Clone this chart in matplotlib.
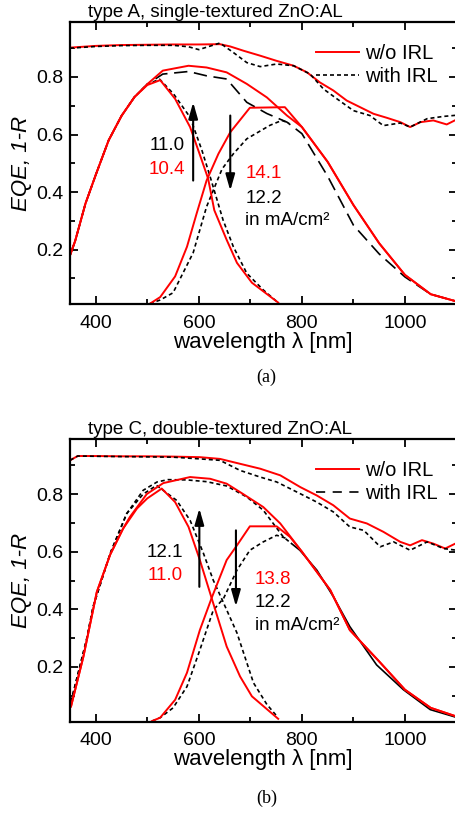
import numpy as np
import matplotlib.pyplot as plt
from matplotlib.ticker import MultipleLocator

plt.rcParams['font.family'] = ['Liberation Sans', 'DejaVu Sans']
plt.rcParams['font.size'] = 13.5

RED = '#ff0000'

# ---------------- panel (a): type A ----------------
a_title = 'type A, single-textured ZnO:AL'

# 1-R
a_r_wl    = [350, 400, 450, 500, 550, 600, 641, 661, 687, 719, 751, 784, 810, 835, 861, 887, 913, 939, 965, 991, 1010, 1030, 1055, 1081, 1100]
a_r_noirl = [0.902, 0.908, 0.911, 0.912, 0.913, 0.913, 0.914, 0.906, 0.891, 0.874, 0.856, 0.839, 0.816, 0.781, 0.753, 0.718, 0.695, 0.672, 0.658, 0.643, 0.626, 0.643, 0.649, 0.635, 0.652]
a_r_wl2   = [350, 400, 450, 500, 550, 580, 600, 641, 667, 693, 719, 751, 784, 816, 842, 868, 900, 932, 958, 991, 1010, 1043, 1075, 1100]
a_r_irl   = [0.900, 0.906, 0.909, 0.910, 0.910, 0.905, 0.895, 0.918, 0.885, 0.850, 0.836, 0.845, 0.839, 0.810, 0.758, 0.724, 0.683, 0.666, 0.631, 0.640, 0.626, 0.655, 0.663, 0.667]

# total EQE
a_tot_wl    = [350, 360, 380, 400, 425, 450, 475, 500, 530, 580, 615, 654, 693, 732, 771, 800, 850, 900, 950, 1000, 1050, 1100]
a_tot_noirl = [0.18, 0.23, 0.36, 0.46, 0.58, 0.665, 0.73, 0.775, 0.822, 0.839, 0.833, 0.816, 0.776, 0.729, 0.666, 0.626, 0.505, 0.355, 0.222, 0.112, 0.045, 0.02]
a_tot_irl   = [0.18, 0.23, 0.36, 0.46, 0.58, 0.665, 0.73, 0.775, 0.81, 0.819, 0.804, 0.793, 0.712, 0.673, 0.643, 0.603, 0.455, 0.285, 0.185, 0.105, 0.045, 0.02]

# top cell
a_top_wl    = [350, 360, 380, 400, 425, 450, 475, 500, 525, 554, 583, 600, 618, 630, 654, 674, 703, 754]
a_top_noirl = [0.18, 0.23, 0.36, 0.46, 0.58, 0.665, 0.73, 0.772, 0.789, 0.724, 0.626, 0.54, 0.447, 0.337, 0.234, 0.154, 0.085, 0.016]
a_top_wl2   = [350, 360, 380, 400, 425, 450, 475, 500, 524, 551, 583, 606, 622, 647, 667, 693, 725, 751]
a_top_irl   = [0.18, 0.23, 0.36, 0.46, 0.58, 0.665, 0.73, 0.775, 0.792, 0.741, 0.66, 0.545, 0.453, 0.303, 0.21, 0.118, 0.06, 0.02]

# bottom cell
a_bot_wl    = [505, 525, 554, 577, 596, 615, 638, 661, 699, 767, 800, 850, 900, 950, 1000, 1050, 1100]
a_bot_noirl = [0.012, 0.035, 0.107, 0.21, 0.327, 0.44, 0.533, 0.608, 0.693, 0.695, 0.626, 0.505, 0.355, 0.222, 0.112, 0.045, 0.02]
a_bot_wl2   = [505, 525, 550, 589, 615, 628, 645, 667, 693, 738, 761, 775]
a_bot_irl   = [0.012, 0.025, 0.05, 0.189, 0.349, 0.406, 0.48, 0.533, 0.585, 0.632, 0.649, 0.64]

a_jsc_left  = ['11.0', '10.4']
a_jsc_right = ['14.1', '12.2']

# ---------------- panel (b): type C ----------------
b_title = 'type C, double-textured ZnO:AL'

b_r_wl    = [350, 365, 400, 450, 500, 550, 602, 641, 680, 719, 758, 797, 829, 861, 893, 926, 958, 991, 1010, 1033, 1055, 1078, 1100]
b_r_noirl = [0.917, 0.932, 0.932, 0.931, 0.931, 0.930, 0.928, 0.922, 0.905, 0.888, 0.865, 0.824, 0.795, 0.761, 0.715, 0.698, 0.669, 0.634, 0.622, 0.640, 0.628, 0.611, 0.630]
b_r_wl2   = [350, 365, 400, 450, 500, 550, 602, 641, 680, 719, 751, 797, 829, 861, 893, 920, 952, 978, 1010, 1043, 1075, 1100]
b_r_irl   = [0.917, 0.932, 0.931, 0.930, 0.929, 0.928, 0.922, 0.917, 0.882, 0.859, 0.842, 0.801, 0.772, 0.738, 0.686, 0.674, 0.617, 0.634, 0.605, 0.634, 0.611, 0.605]

b_tot_wl    = [352, 376, 402, 428, 453, 466, 499, 531, 583, 622, 654, 686, 725, 758, 800, 855, 893, 950, 1000, 1050, 1100]
b_tot_noirl = [0.063, 0.236, 0.46, 0.59, 0.68, 0.72, 0.80, 0.838, 0.859, 0.853, 0.836, 0.80, 0.755, 0.698, 0.60, 0.467, 0.328, 0.219, 0.121, 0.058, 0.028]
b_tot_wl2   = [352, 382, 395, 428, 460, 492, 519, 540, 577, 615, 654, 693, 725, 764, 780, 796, 829, 861, 893, 945, 997, 1049, 1100]
b_tot_irl   = [0.08, 0.294, 0.41, 0.594, 0.732, 0.813, 0.842, 0.85, 0.849, 0.843, 0.828, 0.79, 0.744, 0.651, 0.628, 0.605, 0.536, 0.444, 0.34, 0.207, 0.121, 0.052, 0.025]

b_top_wl    = [352, 376, 402, 428, 453, 480, 500, 528, 554, 580, 602, 625, 654, 680, 703, 754]
b_top_noirl = [0.063, 0.236, 0.46, 0.59, 0.68, 0.75, 0.785, 0.819, 0.772, 0.686, 0.571, 0.438, 0.271, 0.167, 0.098, 0.02]
b_top_wl2   = [352, 382, 395, 428, 460, 492, 518, 557, 583, 609, 628, 644, 674, 706, 732, 751]
b_top_irl   = [0.08, 0.294, 0.41, 0.594, 0.732, 0.80, 0.83, 0.778, 0.709, 0.594, 0.501, 0.438, 0.318, 0.145, 0.07, 0.03]

b_bot_wl    = [509, 525, 554, 577, 602, 625, 654, 674, 699, 751, 777, 800, 855, 893, 950, 1000, 1050, 1100]
b_bot_noirl = [0.012, 0.024, 0.086, 0.18, 0.328, 0.44, 0.571, 0.622, 0.688, 0.688, 0.651, 0.60, 0.467, 0.328, 0.219, 0.121, 0.058, 0.028]
b_bot_wl2   = [509, 525, 550, 577, 602, 628, 648, 674, 699, 725, 751, 770]
b_bot_irl   = [0.012, 0.024, 0.058, 0.132, 0.259, 0.397, 0.438, 0.536, 0.605, 0.634, 0.657, 0.646]

b_jsc_left  = ['12.1', '11.0']
b_jsc_right = ['13.8', '12.2']

DOT = (0, (2.4, 1.8))
LDASH_A = (0, (8.0, 4.0))
LDASH_B = (0, (5.5, 4.5))


def style_axes(ax, title):
    ax.set_xlim(350, 1100)
    ax.set_ylim(0.01, 0.99)
    ax.xaxis.set_major_locator(MultipleLocator(200))
    ax.xaxis.set_minor_locator(MultipleLocator(100))
    ax.yaxis.set_minor_locator(MultipleLocator(0.1))
    ax.set_yticks([0.2, 0.4, 0.6, 0.8])
    ax.set_yticklabels(['0.2', '0.4', '0.6', '0.8'])
    ax.tick_params(which='both', direction='in', top=True, right=True, width=1.3, labelsize=14)
    ax.tick_params(which='major', length=6)
    ax.tick_params(which='minor', length=3.5)
    ax.tick_params(axis='x', pad=7.5)
    ax.tick_params(axis='y', pad=4.5)
    for s in ax.spines.values():
        s.set_linewidth(1.6)
    ax.set_xlabel('wavelength λ [nm]', labelpad=0, fontsize=16)
    ax.set_ylabel('EQE, 1-R', style='italic', labelpad=3, fontsize=16)
    ax.text(0.047, 1.019, title, transform=ax.transAxes, va='baseline', ha='left', fontsize=13.5)


def jsc_text(ax, xl, yl, xr, yr, left, right):
    kw = dict(va='center_baseline', fontsize=13.5)
    ax.text(xl, yl[0], left[0], color='black', ha='right', **kw)
    ax.text(xl, yl[1], left[1], color=RED, ha='right', **kw)
    ax.text(xr, yr[0], right[0], color=RED, ha='left', **kw)
    ax.text(xr, yr[1], right[1], color='black', ha='left', **kw)
    ax.text(xr, yr[2], 'in mA/cm²', color='black', ha='left', **kw)


def arrow(ax, x, y0, y1):
    ax.annotate('', xy=(x, y1), xytext=(x, y0),
                arrowprops=dict(arrowstyle='-|>,head_length=0.7,head_width=0.2', color='black', lw=1.5,
                                mutation_scale=14, shrinkA=0, shrinkB=0))


def legend(ax):
    ax.legend(loc='upper right', bbox_to_anchor=(0.977, 0.959), frameon=False, borderpad=0,
              handlelength=2.14, handletextpad=0.28, labelspacing=0.22, fontsize=14.5)


fig = plt.figure(figsize=(4.55, 8.16), dpi=100)
ax1 = fig.add_axes([70 / 455, 1 - 304.3 / 816, 386.5 / 455, 282 / 816])
ax2 = fig.add_axes([70 / 455, 1 - 721.7 / 816, 386.5 / 455, 282.4 / 816])

lw_r = 1.4
lw_k = 1.2

# panel a
ax1.plot(a_r_wl, a_r_noirl, color=RED, lw=lw_r, label='w/o IRL')
ax1.plot(a_r_wl2, a_r_irl, color='black', lw=lw_k, ls=DOT, label='with IRL')
ax1.plot(a_tot_wl, a_tot_irl, color='black', lw=lw_k, ls=LDASH_A)
ax1.plot(a_top_wl2, a_top_irl, color='black', lw=lw_k, ls=DOT)
ax1.plot(a_bot_wl2, a_bot_irl, color='black', lw=lw_k, ls=DOT)
ax1.plot(a_tot_wl, a_tot_noirl, color=RED, lw=lw_r)
ax1.plot(a_top_wl, a_top_noirl, color=RED, lw=lw_r)
ax1.plot(a_bot_wl, a_bot_noirl, color=RED, lw=lw_r)
arrow(ax1, 589, 0.44, 0.712)
arrow(ax1, 661, 0.666, 0.405)
jsc_text(ax1, 573, [0.568, 0.487], 690, [0.470, 0.383, 0.309], a_jsc_left, a_jsc_right)
style_axes(ax1, a_title)
legend(ax1)

# panel b  (outer curve with IRL merges with the bottom-cell curve beyond ~780 nm)
b_tot_wl2 = np.array(b_tot_wl2)
b_tot_irl = np.array(b_tot_irl)
left = b_tot_wl2 <= 780
right = b_tot_wl2 >= 780
ax2.plot(b_r_wl, b_r_noirl, color=RED, lw=lw_r, label='w/o IRL')
ax2.plot([], [], color='black', lw=lw_k, ls=LDASH_B, label='with IRL')
ax2.plot(b_r_wl2, b_r_irl, color='black', lw=lw_k, ls=DOT)
ax2.plot(b_tot_wl2[left], b_tot_irl[left], color='black', lw=lw_k, ls=DOT)
ax2.plot(b_tot_wl2[right], b_tot_irl[right], color='black', lw=lw_k)
ax2.plot(b_top_wl2, b_top_irl, color='black', lw=lw_k, ls=DOT)
ax2.plot(b_bot_wl2, b_bot_irl, color='black', lw=lw_k, ls=DOT)
ax2.plot(b_tot_wl, b_tot_noirl, color=RED, lw=lw_r)
ax2.plot(b_top_wl, b_top_noirl, color=RED, lw=lw_r)
ax2.plot(b_bot_wl, b_bot_noirl, color=RED, lw=lw_r)
arrow(ax2, 601, 0.478, 0.75)
arrow(ax2, 672, 0.674, 0.41)
jsc_text(ax2, 569, [0.605, 0.525], 709, [0.512, 0.429, 0.352], b_jsc_left, b_jsc_right)
style_axes(ax2, b_title)
legend(ax2)

fig.text(266 / 455, 1 - 377.7 / 816, '(a)', family='Liberation Serif', fontsize=13, ha='center', va='center')
fig.text(267 / 455, 1 - 798 / 816, '(b)', family='Liberation Serif', fontsize=13, ha='center', va='center')

fig.savefig('out.png', dpi=100)
